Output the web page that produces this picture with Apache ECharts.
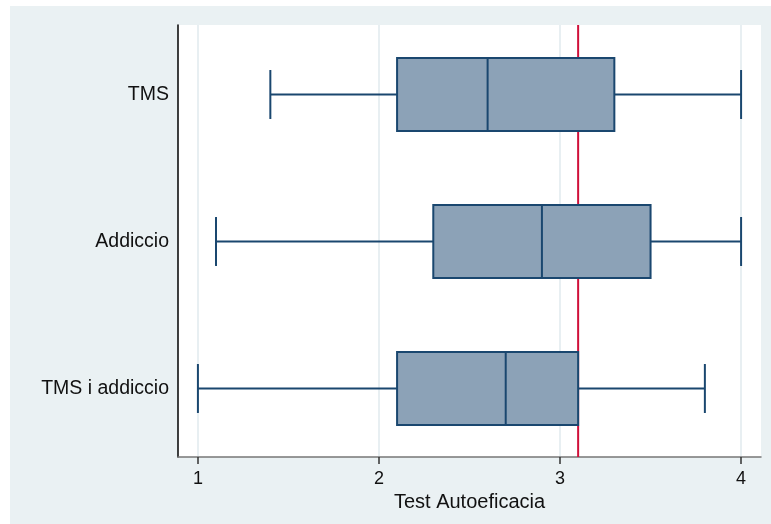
<!DOCTYPE html>
<html>
<head>
<meta charset="utf-8">
<script src="https://cdn.jsdelivr.net/npm/echarts@6/dist/echarts.min.js"></script>
<style>
html,body{margin:0;padding:0;background:#ffffff;}
#chart{width:771px;height:524px;}
</style>
</head>
<body>
<div id="chart"></div>
<script>
// Data
var categories = ['TMS', 'Addiccio', 'TMS i addiccio'];
var whiskerLow = [1.4, 1.1, 1.0];
var q1 = [2.1, 2.3, 2.1];
var median = [2.6, 2.9, 2.7];
var q3 = [3.3, 3.5, 3.1];
var whiskerHigh = [4.0, 4.0, 3.8];
var refLine = 3.1;
var xTicks = [1, 2, 3, 4];
var xTitle = 'Test Autoeficacia';

var boxData = categories.map(function (c, i) {
  return [i, whiskerLow[i], q1[i], median[i], q3[i], whiskerHigh[i]];
});

var boxColor = '#8ca2b7';
var edgeColor = '#1a476f';
var FONT = 'Liberation Sans, Arial, sans-serif';

function renderBox(params, api) {
  var idx = api.value(0);
  var lo = api.coord([api.value(1), idx]);
  var b1 = api.coord([api.value(2), idx]);
  var md = api.coord([api.value(3), idx]);
  var b3 = api.coord([api.value(4), idx]);
  var hi = api.coord([api.value(5), idx]);
  var band = api.size([0, 1])[1];
  var bh = band * 0.497;
  var ch = band * 0.333;
  var y = lo[1];
  var lineStyle = { stroke: edgeColor, lineWidth: 2, fill: null };
  return {
    type: 'group',
    children: [
      { type: 'line', shape: { x1: lo[0], y1: y, x2: b1[0], y2: y }, style: lineStyle },
      { type: 'line', shape: { x1: b3[0], y1: y, x2: hi[0], y2: y }, style: lineStyle },
      { type: 'line', shape: { x1: lo[0], y1: y - ch / 2, x2: lo[0], y2: y + ch / 2 }, style: lineStyle },
      { type: 'line', shape: { x1: hi[0], y1: y - ch / 2, x2: hi[0], y2: y + ch / 2 }, style: lineStyle },
      { type: 'rect', shape: { x: b1[0], y: y - bh / 2, width: b3[0] - b1[0], height: bh },
        style: { fill: boxColor, stroke: edgeColor, lineWidth: 2 } },
      { type: 'line', shape: { x1: md[0], y1: y - bh / 2, x2: md[0], y2: y + bh / 2 }, style: lineStyle }
    ]
  };
}

function renderRef(params, api) {
  var p = api.coord([api.value(0), 0]);
  var cs = params.coordSys;
  return {
    type: 'line',
    shape: { x1: p[0], y1: cs.y, x2: p[0], y2: cs.y + cs.height },
    style: { stroke: '#d0103a', lineWidth: 2 }
  };
}

var chart = echarts.init(document.getElementById('chart'), null, { renderer: 'canvas' });
chart.setOption({
  animation: false,
  backgroundColor: '#ffffff',
  textStyle: { fontFamily: FONT },
  graphic: [
    { type: 'rect', z: -10, silent: true, shape: { x: 10, y: 6, width: 761, height: 518 }, style: { fill: '#eaf1f3' } }
  ],
  grid: [
    { left: 178, top: 25, right: 10, bottom: 67, show: true, backgroundColor: '#ffffff', borderWidth: 0 },
    { left: 178, top: 21, right: 10, bottom: 62, show: false }
  ],
  xAxis: [
    {
      gridIndex: 0,
      type: 'value',
      min: 0.89, max: 4.11,
      name: xTitle,
      nameLocation: 'middle',
      nameGap: 28,
      nameTextStyle: { fontSize: 20, color: '#111', fontFamily: FONT },
      axisLine: { show: true, lineStyle: { color: '#777777', width: 1.5 } },
      axisTick: { show: true, customValues: xTicks, length: 7, lineStyle: { color: '#333', width: 1.5 } },
      axisLabel: { customValues: xTicks, fontSize: 18, color: '#111', margin: 13, fontFamily: FONT },
      splitLine: { show: true, lineStyle: { color: '#e8eff2', width: 2 } }
    },
    {
      gridIndex: 1,
      type: 'value',
      min: 0.89, max: 4.11,
      show: false
    }
  ],
  yAxis: [
    {
      gridIndex: 0,
      type: 'category',
      data: categories,
      inverse: true,
      axisLine: { show: true, lineStyle: { color: '#000000', width: 1.5 } },
      axisTick: { show: false },
      axisLabel: { show: false },
      splitLine: { show: false }
    },
    {
      gridIndex: 1,
      type: 'category',
      data: categories,
      inverse: true,
      axisLine: { show: false },
      axisTick: { show: false },
      axisLabel: { fontSize: 19.5, color: '#111', margin: 9, fontFamily: FONT },
      splitLine: { show: false }
    }
  ],
  series: [
    {
      type: 'custom',
      xAxisIndex: 0,
      yAxisIndex: 0,
      z: 1,
      silent: true,
      renderItem: renderRef,
      data: [[refLine]],
      encode: { x: 0 }
    },
    {
      type: 'custom',
      xAxisIndex: 1,
      yAxisIndex: 1,
      z: 3,
      renderItem: renderBox,
      data: boxData,
      encode: { x: [1, 2, 3, 4, 5], y: 0 }
    }
  ]
});
</script>
</body>
</html>
